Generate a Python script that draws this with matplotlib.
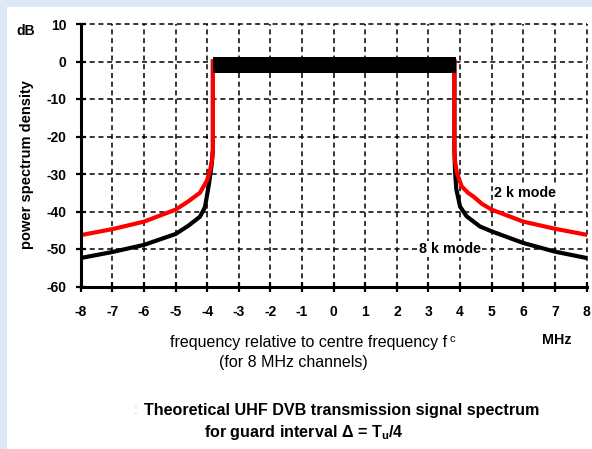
import matplotlib
matplotlib.use("Agg")
import matplotlib.pyplot as plt
from matplotlib.patches import Rectangle

plt.rcParams['font.family'] = ['Liberation Sans', 'DejaVu Sans']
plt.rcParams['mathtext.fontset'] = 'custom'
plt.rcParams['mathtext.rm'] = 'Liberation Sans'
plt.rcParams['mathtext.it'] = 'Liberation Sans:italic'
plt.rcParams['mathtext.bf'] = 'Liberation Sans:bold'

# ---- data ----
x_ticks = list(range(-8, 9))
y_ticks = list(range(-60, 11, 10))

# 2 k mode (red)
x2k_left = [-8, -7, -6, -5, -4.6, -4.23, -4.0, -3.9, -3.85, -3.82, -3.82]
y2k_left = [-46.3, -44.7, -42.7, -39.5, -37.3, -35.0, -31.6, -28.5, -26.3, -23.5, 0]
x2k_right = [3.82, 3.82, 3.84, 3.9, 4.05, 4.25, 4.42, 4.7, 5.0, 6.0, 7.0, 8.0]
y2k_right = [0, -23.5, -26.5, -29.7, -33.3, -35.0, -36.0, -38.0, -39.5, -42.7, -44.6, -46.2]

# 8 k mode (black)
x8k_left = [-8, -7, -6, -5, -4.6, -4.23, -4.07, -3.94, -3.86, -3.82, -3.82]
y8k_left = [-52.4, -50.8, -48.9, -46.0, -43.8, -41.4, -38.8, -32.4, -27.5, -23.6, 0]
x8k_right = [3.82, 3.82, 3.84, 3.88, 4.0, 4.21, 4.63, 5.0, 6.0, 7.0, 8.0]
y8k_right = [0, -23.5, -29.0, -34.0, -38.7, -41.3, -44.0, -45.3, -48.4, -50.7, -52.4]

# in-band flat part (thick black bar)
band_x = [-3.82, 3.86]
band_top = 1.2
band_bottom = -3.0

# ---- figure ----
W, H = 592, 449
fig = plt.figure(figsize=(W / 100, H / 100), dpi=100, facecolor='#dce7f8')
fig.patches.append(Rectangle((7 / W, 0), 1, 1 - 7 / H, transform=fig.transFigure,
                             facecolor='white', edgecolor='none', zorder=-10))

ax = fig.add_axes([80.8 / W, 1 - 286.5 / H, (586.5 - 80.8) / W, (286.5 - 24) / H])
ax.set_facecolor('none')
ax.set_xlim(-8, 8)
ax.set_ylim(-60, 10)

# grid
for xv in x_ticks:
    ax.axvline(xv, color='black', lw=1.1, ls=(0, (3.3, 2.4)), zorder=1, clip_on=False)
for yv in y_ticks:
    ax.axhline(yv, color='black', lw=1.1, ls=(0, (3.3, 2.4)), zorder=1, clip_on=False)

# curves
ax.plot(x8k_left, y8k_left, color='black', lw=3.0, zorder=3, solid_joinstyle='round')
ax.plot(x8k_right, y8k_right, color='black', lw=3.0, zorder=3, solid_joinstyle='round')
ax.plot(x2k_left, y2k_left, color='#ff0000', lw=3.0, zorder=4, solid_joinstyle='round')
ax.plot(x2k_right, y2k_right, color='#ff0000', lw=3.0, zorder=4, solid_joinstyle='round')

ax.fill_between(band_x, [band_bottom] * 2, [band_top] * 2, color='black', zorder=5, lw=0)

# spines
for s in ['top', 'right']:
    ax.spines[s].set_visible(False)
for s in ['left', 'bottom']:
    ax.spines[s].set_linewidth(2.2)
    ax.spines[s].set_zorder(6)

ax.set_xticks(x_ticks)
ax.set_yticks(y_ticks)
ax.set_xticklabels([str(v) for v in x_ticks], fontsize=10, fontweight='bold')
ax.set_yticklabels([str(v) for v in y_ticks], fontsize=10, fontweight='bold')
ax.tick_params(axis='both', direction='inout', length=7, width=1.6, color='black')
ax.tick_params(axis='x', pad=10)
ax.tick_params(axis='y', pad=7)

# annotations
ax.text(6.06, -35.0, '2 k mode', fontsize=10.3, fontweight='bold', ha='center', va='center', zorder=7,
        bbox=dict(facecolor='white', edgecolor='none', pad=0.5))
ax.text(3.69, -50.0, '8 k mode', fontsize=10.3, fontweight='bold', ha='center', va='center', zorder=7,
        bbox=dict(facecolor='white', edgecolor='none', pad=0.5))

# figure texts
def px(x, y):
    return x / W, 1 - y / H

fig.text(*px(26, 31), 'dB', fontsize=10, fontweight='bold', ha='center', va='center')
fig.text(*px(27.5, 165), 'power spectrum density', fontsize=10.5, fontweight='bold',
         rotation=90, ha='center', va='center')
fig.text(*px(308.5, 343), 'frequency relative to centre frequency f', fontsize=11.5,
         ha='center', va='center')
fig.text(*px(449, 339), 'c', fontsize=8, ha='left', va='center')
fig.text(*px(557, 340), 'MHz', fontsize=10.3, fontweight='bold', ha='center', va='center')
fig.text(*px(293.5, 362), '(for 8 MHz channels)', fontsize=11.5, ha='center', va='center')
fig.text(*px(136, 410), ':', fontsize=10, color='#bbbbbb', ha='center', va='center')
fig.text(*px(341.5, 410), 'Theoretical UHF DVB transmission signal spectrum', fontsize=11.6,
         fontweight='bold', ha='center', va='center')
fig.text(*px(303.5, 432), r'for guard interval $\mathbf{\Delta}$ = T$_\mathbf{u}$/4', fontsize=11.6,
         fontweight='bold', ha='center', va='center')

fig.savefig('out.png', dpi=100, facecolor=fig.get_facecolor())
